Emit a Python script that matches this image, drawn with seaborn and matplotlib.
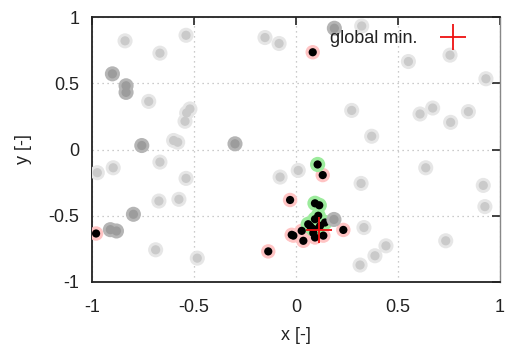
import matplotlib
matplotlib.use("Agg")
import matplotlib.pyplot as plt
import seaborn as sns
import pandas as pd

# ---- data ----
light_x = [-0.838, -0.539, -0.667, -0.152, -0.083, 0.322, 0.551, 0.755, 0.931,
           -0.722, -0.52, -0.536, -0.544, -0.60, -0.58, 0.273, 0.371, 0.608, 0.67,
           0.758, 0.845, -0.974, -0.896, -0.667, -0.539, -0.672, -0.574, -0.688,
           -0.484, -0.078, 0.011, 0.319, 0.333, 0.441, 0.387, 0.314, 0.636, 0.918,
           0.926, 0.734]
light_y = [0.82, 0.862, 0.727, 0.845, 0.80, 0.932, 0.664, 0.712, 0.534,
           0.363, 0.306, 0.276, 0.213, 0.068, 0.055, 0.295, 0.10, 0.268, 0.313,
           0.205, 0.286, -0.175, -0.138, -0.095, -0.218, -0.389, -0.376, -0.757,
           -0.82, -0.208, -0.158, -0.256, -0.589, -0.727, -0.802, -0.872, -0.138, -0.271,
           -0.431, -0.689]

dark_x = [-0.90, -0.833, -0.833, -0.756, -0.299, 0.188, -0.797, -0.91, -0.88, 0.186]
dark_y = [0.571, 0.481, 0.431, 0.03, 0.043, 0.915, -0.489, -0.605, -0.615, -0.528]

red_x = [0.082, -0.98, -0.029, -0.021, -0.136, 0.131, 0.232, 0.036, 0.028,
         -0.013, 0.093, 0.134, 0.085]
red_y = [0.734, -0.634, -0.381, -0.644, -0.769, -0.193, -0.607, -0.689, -0.614,
         -0.65, -0.664, -0.65, -0.63]

green_x = [0.106, 0.093, 0.114, 0.06, 0.093, 0.118, 0.085, 0.142, 0.109, 0.07]
green_y = [-0.113, -0.406, -0.421, -0.564, -0.526, -0.576, -0.60, -0.551, -0.50, -0.58]

min_x = [0.114]
min_y = [-0.607]

x_ticks = [-1, -0.5, 0, 0.5, 1]
y_ticks = [-1, -0.5, 0, 0.5, 1]
x_tick_labels = ["-1", "-0.5", "0", "0.5", "1"]
y_tick_labels = ["-1", "-0.5", "0", "0.5", "1"]

sns.set_style("white")
plt.rcParams['font.family'] = ['Liberation Sans', 'DejaVu Sans']

light = pd.DataFrame({"x": light_x, "y": light_y})
dark = pd.DataFrame({"x": dark_x, "y": dark_y})
red = pd.DataFrame({"x": red_x, "y": red_y})
green = pd.DataFrame({"x": green_x, "y": green_y})
gmin = pd.DataFrame({"x": min_x, "y": min_y})

fig = plt.figure(figsize=(5.05, 3.47), dpi=100)
ax = fig.add_axes([92/505, 65/347, 408/505, 265/347])

HALO = 118
CORE = 44
BLK = 35
REDH = 108

# red halos, green halos, black cores
sns.scatterplot(data=red, x="x", y="y", s=REDH, color="#ffc4c4", edgecolor="none", ax=ax, zorder=3)
sns.scatterplot(data=green, x="x", y="y", s=REDH + 12, color="#9ceb9c", edgecolor="none", ax=ax, zorder=4)
sns.scatterplot(data=red, x="x", y="y", s=BLK, color="black", edgecolor="none", ax=ax, zorder=5)
sns.scatterplot(data=green, x="x", y="y", s=BLK, color="black", edgecolor="none", ax=ax, zorder=5)

# gray points
sns.scatterplot(data=light, x="x", y="y", s=HALO, color="#e6e6e6", edgecolor="none", ax=ax, zorder=6)
sns.scatterplot(data=light, x="x", y="y", s=CORE, color="#cacaca", edgecolor="none", ax=ax, zorder=6)
sns.scatterplot(data=dark, x="x", y="y", s=HALO, color="#b5b5b5", edgecolor="none", ax=ax, zorder=6)
sns.scatterplot(data=dark, x="x", y="y", s=CORE, color="#9c9c9c", edgecolor="none", ax=ax, zorder=6)

# global minimum
ax.plot(gmin["x"], gmin["y"], linestyle="none", marker="+", ms=18.5, mew=1.3,
        color="#ee1111", label="global min.", zorder=8)

ax.set_xlim(-1, 1)
ax.set_ylim(-1, 1)
ax.set_xticks(x_ticks)
ax.set_xticklabels(x_tick_labels)
ax.set_yticks(y_ticks)
ax.set_yticklabels(y_tick_labels)
ax.tick_params(direction="in", length=6, width=1.2, top=True, right=True,
               labelsize=13, labelcolor="#222222", color="#222222")
ax.tick_params(axis="x", pad=12)
ax.tick_params(axis="y", pad=9)
ax.grid(True, linestyle=(0, (1, 3)), color="#bbbbbb", linewidth=0.9)
for side in ["left", "bottom", "top"]:
    ax.spines[side].set_color("#222222")
    ax.spines[side].set_linewidth(1.3)
ax.spines["right"].set_color("#888888")
ax.spines["right"].set_linewidth(1.0)

ax.set_xlabel("x [-]", fontsize=13, color="#222222", labelpad=8)
ax.set_ylabel("y [-]", fontsize=13, color="#222222", labelpad=12)

leg = ax.legend(loc="upper right", bbox_to_anchor=(0.946, 0.977), frameon=False,
                markerfirst=False, fontsize=13, handlelength=2.0, handletextpad=0.95,
                borderaxespad=0)
leg.set_zorder(10)
for t in leg.get_texts():
    t.set_color("#222222")

fig.savefig("out.png", dpi=100)
